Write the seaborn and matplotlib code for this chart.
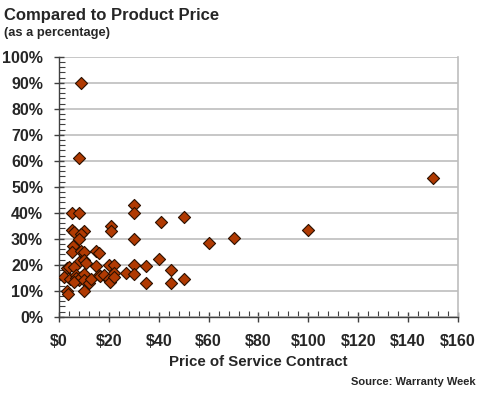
import numpy as np
import pandas as pd
import seaborn as sns
import matplotlib.pyplot as plt
from matplotlib.ticker import MultipleLocator, FuncFormatter

# price of service contract ($) and price as share of product price (%)
price = [9, 8, 150, 5, 8, 30, 30, 41, 50, 21, 21, 5, 6, 10, 9, 8, 30, 60, 70, 100,
         5.5, 5, 9, 10, 15, 16, 40, 8, 10, 11, 3, 4, 6, 15, 20, 22, 30, 35,
         2, 4.5, 7, 7, 8, 6, 9, 10, 10, 12, 13, 16, 16.5, 18, 20, 20.5, 22, 22,
         27, 30, 45, 50, 35, 45, 3.3, 3.6, 10]
pct = [90, 61, 53.5, 40, 40, 43, 40, 36.3, 38.3, 35, 33, 33.5, 32.5, 33, 32, 30, 30, 28.5, 30.3, 33.4,
       27.3, 25, 25.4, 25, 25.2, 24.4, 22.2, 21.2, 22, 20.8, 18.7, 19, 19.3, 19.6, 20, 20, 20, 19.5,
       15.4, 14.4, 16, 15, 14, 13.5, 15.5, 16.4, 14, 13, 14.7, 16, 15.7, 16, 14.5, 13.4, 17, 15.4,
       16.8, 16.6, 17.9, 14.6, 13.1, 13.1, 10, 8.8, 10]

df = pd.DataFrame({'price': price, 'pct': pct})

sns.set_style('white')
plt.rcParams['font.family'] = ['Liberation Sans', 'DejaVu Sans']

fig = plt.figure(figsize=(4.8, 4.0), dpi=100)
ax = fig.add_axes([0.123, 0.208, 0.831, 0.650])

sns.scatterplot(data=df, x='price', y='pct', marker='D', s=38,
                color='#B03A02', edgecolor='#2a1000', linewidth=0.8, ax=ax, zorder=3)

ax.set_xlim(0, 160)
ax.set_ylim(0, 100)
ax.xaxis.set_major_locator(MultipleLocator(20))
ax.xaxis.set_minor_locator(MultipleLocator(4))
ax.yaxis.set_major_locator(MultipleLocator(10))
ax.yaxis.set_minor_locator(MultipleLocator(2))
ax.xaxis.set_major_formatter(FuncFormatter(lambda v, p: '$%d' % v))
ax.yaxis.set_major_formatter(FuncFormatter(lambda v, p: '%d%%' % v))

ax.grid(axis='y', color='#bdbdbd', linewidth=1.2, zorder=0)
ax.set_axisbelow(True)

for s in ['left', 'bottom']:
    ax.spines[s].set_color('#404040')
    ax.spines[s].set_linewidth(1.0)
ax.spines['top'].set_visible(False)
ax.spines['right'].set_color('#bdbdbd')
ax.spines['right'].set_linewidth(1.2)

ax.tick_params(which='major', direction='inout', length=7, width=1, color='#404040')
ax.tick_params(which='minor', direction='in', length=4, width=0.8, color='#404040')
ax.tick_params(axis='x', which='major', labelsize=11.5, pad=9)
ax.tick_params(axis='y', which='major', labelsize=11.5, pad=8)
ax.tick_params(axis='x', which='both', bottom=True)
ax.tick_params(axis='y', which='both', left=True)
for lab in ax.get_xticklabels() + ax.get_yticklabels():
    lab.set_fontweight('bold')

ax.set_xlabel('Price of Service Contract', fontsize=10.8, fontweight='bold', labelpad=4)
ax.set_ylabel('')

fig.text(0.008, 0.962, 'Compared to Product Price', fontsize=12, fontweight='bold', va='center')
fig.text(0.008, 0.917, '(as a percentage)', fontsize=9.3, fontweight='bold', va='center')
fig.text(0.99, 0.045, 'Source: Warranty Week', fontsize=8, fontweight='bold', ha='right', va='center')

fig.savefig('out.png', dpi=100)
